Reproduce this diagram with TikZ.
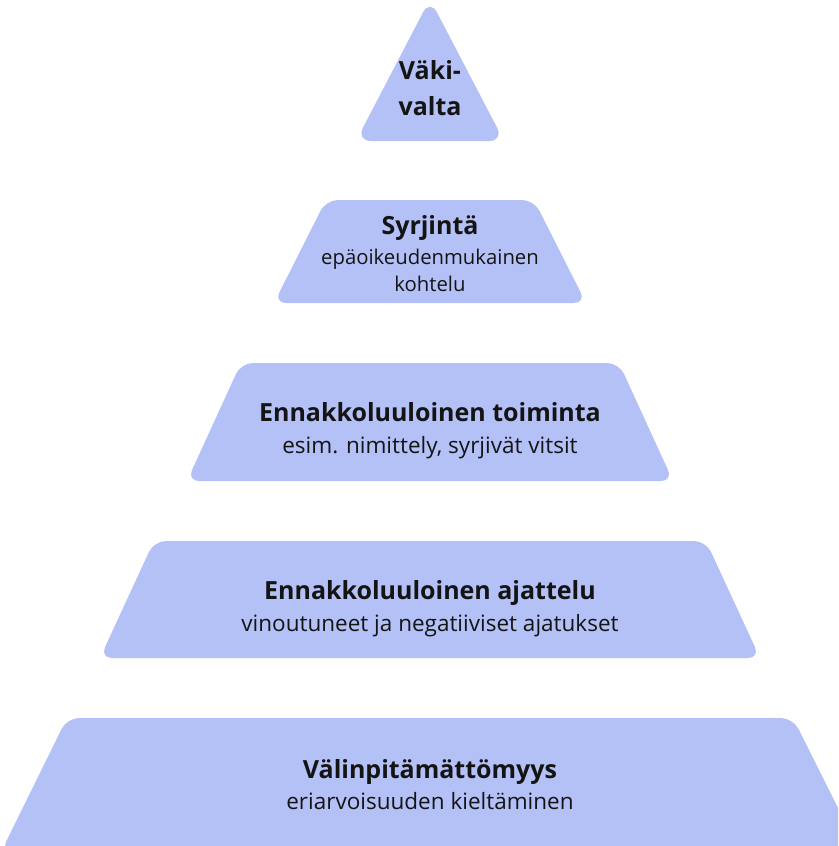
\documentclass[tikz,border=0pt]{standalone}
\usepackage{fontspec}
\setmainfont{Open Sans}
\definecolor{tierfill}{RGB}{180,193,247}
\definecolor{ink}{RGB}{20,20,20}
\begin{document}
\begin{tikzpicture}[x=1pt,y=-1pt,
  tier/.style={fill=tierfill,draw=none,rounded corners=12pt},
  ttl/.style={anchor=base,inner sep=0pt,text=ink,font=\fontsize{25}{30}\selectfont\bfseries},
  sub/.style={anchor=base,inner sep=0pt,text=ink,font=\fontsize{22.5}{27}\selectfont},
  subsm/.style={sub,font=\fontsize{20.3}{24}\selectfont}]
\useasboundingbox (0,0) rectangle (838,846);
\clip (0,0) rectangle (838,846);
% tiers
\fill[tier,rounded corners=15pt] (430,-1) -- (504,141) -- (356,141) -- cycle;
\fill[tier] (326,200) -- (534,200) -- (586,303) -- (274,303) -- cycle;
\fill[tier] (241,363) -- (619,363) -- (673,481) -- (187,481) -- cycle;
\fill[tier] (154,541) -- (706,541) -- (760,658) -- (100,658) -- cycle;
\fill[tier] (67,718) -- (793,718) -- (860,852) -- (1,852) -- cycle;
% texts
\node[ttl] (t1a) at (430,79) {Väki-};
\node[ttl] (t1b) at (430,115) {valta};
\node[ttl] (t2) at (430,234) {Syrjintä};
\node[subsm] (s2a) at (430,264) {epäoikeudenmukainen};
\node[subsm] (s2b) at (430,291) {kohtelu};
\node[ttl] (t3) at (430,421) {Ennakkoluuloinen toiminta};
\node[sub] (s3) at (430,453) {esim. nimittely, syrjivät vitsit};
\node[ttl] (t4) at (430,599) {Ennakkoluuloinen ajattelu};
\node[sub] (s4) at (430,631) {vinoutuneet ja negatiiviset ajatukset};
\node[ttl] (t5) at (430,778) {Välinpitämättömyys};
\node[sub] (s5) at (430,809) {eriarvoisuuden kieltäminen};
\end{tikzpicture}
\end{document}
